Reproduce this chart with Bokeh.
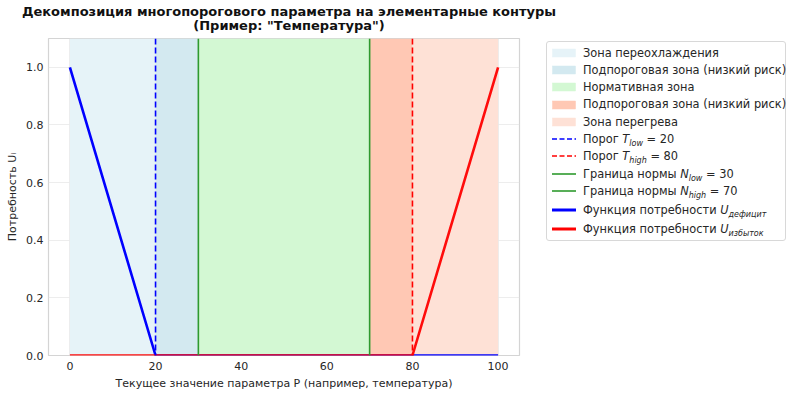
from bokeh.plotting import figure
from bokeh.models import Range1d, FixedTicker, Span, Div, Spacer
from bokeh.layouts import row, column
from bokeh.embed import file_html
from bokeh.resources import INLINE

# ---- data ----
T_low, T_high = 20, 80
N_low, N_high = 30, 70
P_min, P_max = 0, 100

zone_left = [0, 20, 30, 70, 80]
zone_right = [20, 30, 70, 80, 100]
zone_colors = ["#e6f3f8", "#d3e9f0", "#d3f8d3", "#ffc8b4", "#fee1d6"]
zone_labels = ["Зона переохлаждения", "Подпороговая зона (низкий риск)", "Нормативная зона",
               "Подпороговая зона (низкий риск)", "Зона перегрева"]

def_x = [0, 20, 100]
def_y = [1.0, 0.0, 0.0]
exc_x = [0, 80, 100]
exc_y = [0.0, 0.0, 1.0]

x_ticks = [0, 20, 40, 60, 80, 100]
y_ticks = [0.0, 0.2, 0.4, 0.6, 0.8, 1.0]
y_tick_labels = ["0.0", "0.2", "0.4", "0.6", "0.8", "1.0"]

title_line1 = "Декомпозиция многопорогового параметра на элементарные контуры"
title_line2 = '(Пример: "Температура")'

FONT = "DejaVu Sans"

p = figure(frame_width=471, frame_height=317, output_backend="svg", toolbar_location=None,
           x_range=Range1d(-5, 105), y_range=Range1d(0, 1.1),
           min_border_left=42, min_border_right=20, min_border_top=2, min_border_bottom=10)

# zones
p.quad(left=zone_left, right=zone_right, bottom=0, top=1.1, fill_color=zone_colors,
       line_color=None)

# threshold lines
p.add_layout(Span(location=T_low, dimension="height", line_color="#0000ff", line_width=1.6, line_dash="6 3"))
p.add_layout(Span(location=T_high, dimension="height", line_color="#ff0000", line_width=1.6, line_dash="6 3"))
p.add_layout(Span(location=N_low, dimension="height", line_color="#2f9a2f", line_width=1.6))
p.add_layout(Span(location=N_high, dimension="height", line_color="#2f9a2f", line_width=1.6))

# need functions
p.line(def_x, def_y, line_color="#0000ff", line_width=2.6)
p.line(exc_x, exc_y, line_color="#ff0000", line_width=2.6, line_alpha=0.95)

# axes styling
p.xaxis.ticker = FixedTicker(ticks=x_ticks)
p.yaxis.ticker = FixedTicker(ticks=y_ticks)
p.yaxis.major_label_overrides = {v: s for v, s in zip(y_ticks, y_tick_labels)}
for ax in (p.xaxis, p.yaxis):
    ax.axis_line_color = None
    ax.major_tick_line_color = None
    ax.minor_tick_line_color = None
    ax.major_tick_out = 0
    ax.major_tick_in = 0
    ax.minor_tick_out = 0
    ax.minor_tick_in = 0
    ax.major_label_text_font = FONT
    ax.major_label_text_font_size = "11px"
    ax.major_label_text_color = "#262626"
    ax.axis_label_text_font = FONT
    ax.axis_label_text_font_size = "11px"
    ax.axis_label_text_font_style = "normal"
    ax.axis_label_text_color = "#262626"
p.xaxis.major_label_standoff = 6
p.yaxis.major_label_standoff = 5
p.xaxis.axis_label = "Текущее значение параметра P (например, температура)"
p.yaxis.axis_label = "Потребность Uᵢ"
p.xaxis.axis_label_standoff = 4
p.yaxis.axis_label_standoff = 4
p.grid.grid_line_color = "#e9e9e9"
p.grid.grid_line_width = 0.8
p.outline_line_color = "#d4d4d4"
p.outline_line_width = 1.2
p.background_fill_color = "white"

# ---- title (HTML) ----
title_div = Div(
    text=(f'<div style="width:568px;text-align:center;font-family:\'DejaVu Sans\';font-size:13px;'
          f'font-weight:bold;color:#111111;line-height:14px;padding-top:0px">'
          f'{title_line1}<br>{title_line2}</div>'),
    width=784, height=26)

# ---- legend (HTML) ----
def patch_sw(color):
    return (f'<svg width="24" height="10"><rect x="0.5" y="1" width="23" height="8" '
            f'fill="{color}" stroke="{color}" stroke-width="0.5"/></svg>')

def line_sw(color, width, dash=None):
    d = f' stroke-dasharray="{dash}"' if dash else ""
    return (f'<svg width="24" height="10"><line x1="0" y1="5" x2="24" y2="5" '
            f'stroke="{color}" stroke-width="{width}"{d}/></svg>')

sub = 'style="font-size:8px;font-style:italic;vertical-align:-3px;line-height:0"'
legend_rows = []
for c, lab in zip(zone_colors, zone_labels):
    legend_rows.append((patch_sw(c), lab))
legend_rows += [
    (line_sw("#0000ff", 1.6, "5 2.5"), f'Порог <i>T</i><span {sub}>low</span> = {T_low}'),
    (line_sw("#ff0000", 1.6, "5 2.5"), f'Порог <i>T</i><span {sub}>high</span> = {T_high}'),
    (line_sw("#2f9a2f", 1.6), f'Граница нормы <i>N</i><span {sub}>low</span> = {N_low}'),
    (line_sw("#2f9a2f", 1.6), f'Граница нормы <i>N</i><span {sub}>high</span> = {N_high}'),
    (line_sw("#0000ff", 3), f'Функция потребности <i>U</i><span {sub}>дефицит</span>'),
    (line_sw("#ff0000", 3), f'Функция потребности <i>U</i><span {sub}>избыток</span>'),
]
rows_html = ""
for i, (sw, lab) in enumerate(legend_rows):
    h = 17.3 if i < 8 else (18 if i == 8 else 19)
    rows_html += (f'<div style="display:flex;align-items:center;height:{h}px;white-space:nowrap">'
                  f'<span style="display:inline-flex;flex:0 0 31px;width:31px">{sw}</span>'
                  f'<span style="flex:0 0 auto">{lab}</span></div>')

html = (f'<div style="margin-left:2px;margin-top:0px;width:240px;padding:2px 4px 2px 5px;'
        f'border:1px solid #d8d8d8;border-radius:3px;font-family:\'DejaVu Sans\';font-size:11.4px;'
        f'color:#262626;background:white">{rows_html}</div>')
legend = Div(text=html, width=258, height=330)

layout = column(title_div, row(Spacer(width=3), p, legend))
open("out.html", "w").write(file_html(layout, INLINE))
